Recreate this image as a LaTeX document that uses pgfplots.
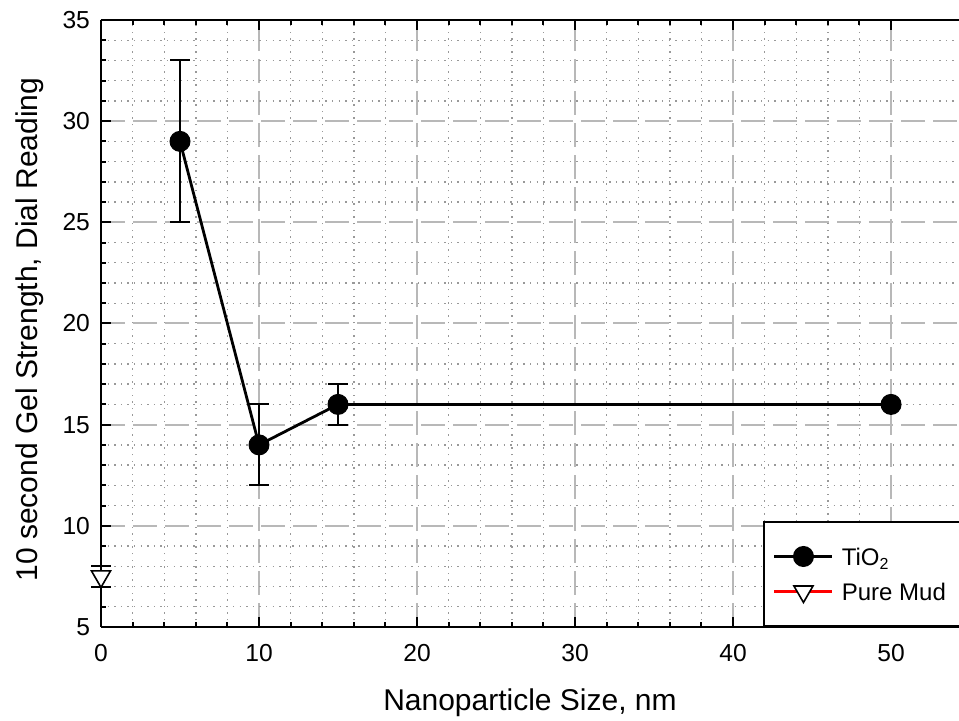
\documentclass[border=0pt]{standalone}
\usepackage{fontspec}
\setmainfont{Liberation Sans}
\usepackage{pgfplots}
\pgfplotsset{compat=1.18}
\begin{document}
\begin{tikzpicture}
\begin{axis}[
  scale only axis, width=429pt, height=303.5pt,
  xmin=0, xmax=54.3, ymin=5, ymax=35,
  axis x line*=box, axis y line*=left,
  axis line style={line width=1pt, black},
  xtick={0,10,...,50}, ytick={5,10,...,35},
  minor x tick num=4, minor y tick num=4,
  tick align=inside,
  major tick length=5pt, minor tick length=2.5pt,
  every tick/.style={black, line width=1pt},
  grid=both,
  major grid style={black!28, line width=1pt, dash pattern=on 12pt off 4pt},
  minor grid style={black!40, line width=0.7pt, dash pattern=on 0.7pt off 2.6pt},
  tick label style={font=\fontsize{12.3}{14}\selectfont},
  /pgf/number format/assume math mode=true,
  xticklabel style={yshift=-5pt},
  yticklabel style={xshift=-2pt},
  label style={font=\fontsize{15}{18}\selectfont},
  xlabel={Nanoparticle Size, nm},
  ylabel={10 second Gel Strength, Dial Reading},
  xlabel style={at={(axis description cs:0.5,-0.1252)}, anchor=center},
  ylabel style={at={(axis description cs:-0.0828,0.49)}, anchor=center},
  clip=false,
  legend style={at={(axis cs:41.9,5)}, anchor=south west, draw=black, line width=1pt, fill=white,
    font=\fontsize{12}{14}\selectfont, inner xsep=4.5pt, inner ysep=8.5pt, row sep=0pt,
    nodes={inner xsep=4pt, inner ysep=3pt, text height=10.5pt, text depth=1pt}},
  legend cell align=left,
  legend image code/.code={\draw[mark repeat=2,mark phase=2,#1] plot coordinates {(0pt,0pt)(14.5pt,0pt)(29pt,0pt)};},
]
\addplot[black, line width=1.4pt, mark=*, mark size=5pt, mark options={solid, fill=black, line width=0.5pt},
  error bars/.cd, y dir=both, y explicit,
  error bar style={line width=1pt, black},
  error mark options={rotate=90, mark size=4.8pt, line width=1pt, black}]
  coordinates {(5,29) +- (0,4) (10,14) +- (0,2) (15,16) +- (0,1) (50,16) +- (0,0)};
\addlegendentry{TiO\textsubscript{2}}
\addplot[red, line width=1.4pt, mark=triangle*, mark size=5.5pt, mark options={solid, draw=black, fill=white, rotate=180, line width=0.8pt},
  error bars/.cd, y dir=both, y explicit,
  error bar style={line width=1pt, black},
  error mark options={rotate=90, mark size=4.8pt, line width=1pt, black}]
  coordinates {(0,7.5) +- (0,0.5)};
\addlegendentry{\makebox[70pt][l]{Pure Mud}}
\end{axis}
\pgfresetboundingbox
\path[use as bounding box] ([shift={(-50.5pt,-47pt)}]current axis.south west) rectangle ([yshift=10pt]current axis.north east);
\end{tikzpicture}
\end{document}
